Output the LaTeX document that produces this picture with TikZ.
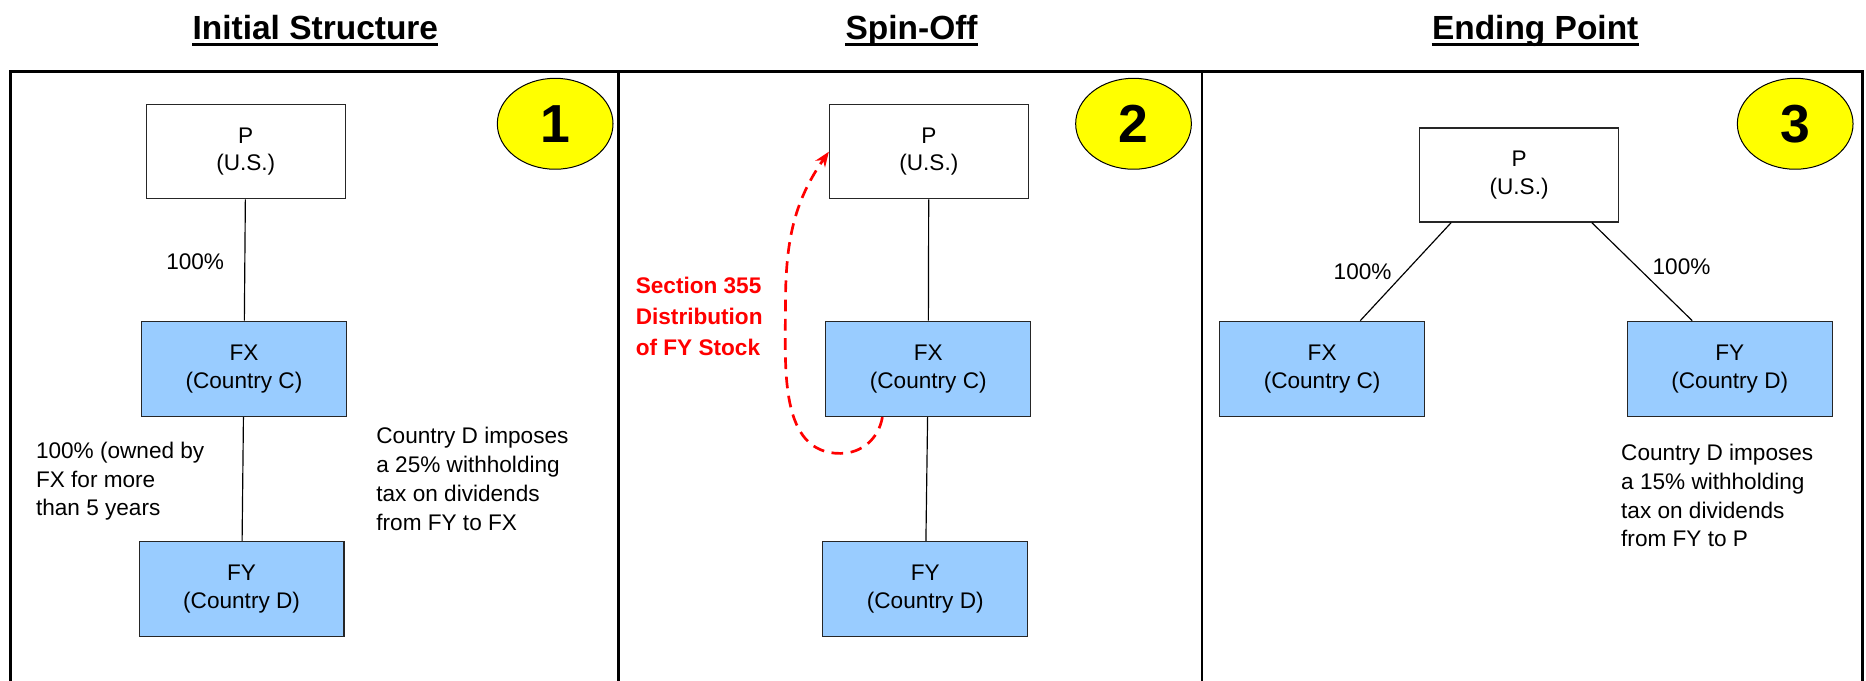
\documentclass[tikz,border=0pt]{standalone}
\usepackage{fontspec}
\setmainfont{Liberation Sans}
\usetikzlibrary{shapes.geometric}
\usetikzlibrary{arrows.meta}
\usetikzlibrary{calc}

\definecolor{boxblue}{RGB}{153,204,255}
\definecolor{stepyellow}{RGB}{255,255,0}
\definecolor{moveRed}{RGB}{255,0,0}

\tikzset{
  entity/.style={draw=black!85, line width=0.7pt, minimum width=4.175cm, minimum height=1.975cm,
    inner sep=0pt, align=center, font=\fontsize{13.5}{16.4}\selectfont},
  foreign/.style={entity, fill=boxblue, minimum width=4.3cm, minimum height=2cm},
  stepnum/.style={ellipse, draw=black, line width=0.6pt, fill=stepyellow, minimum width=2.43cm,
    minimum height=1.91cm, inner sep=0pt, font=\fontsize{32}{32}\bfseries\selectfont},
  heading/.style={anchor=base, inner sep=0pt, font=\fontsize{20}{24}\bfseries\selectfont},
  uline/.style={line width=1.4pt},
  note/.style={anchor=north west, inner sep=0pt, align=left, font=\fontsize{13.5}{17.2}\selectfont},
  share/.style={inner sep=0pt, font=\fontsize{13.5}{16}\selectfont},
  own/.style={line width=0.7pt},
  frame/.style={line width=1.6pt}
}

\begin{document}
\begin{tikzpicture}[x=0.025cm, y=-0.025cm]
            \useasboundingbox (0,0) rectangle (1568,572);

            % Headings
            \node[heading] (tInit) at (265,33) {Initial Structure};
            \node[heading] (tSpin) at (766,33) {Spin-Off};
            \node[heading] (tEnd) at (1290,33) {Ending Point};
            \foreach \t in {tInit, tSpin, tEnd} {
                \draw[uline] ($(\t.base west)+(0,4.5)$) -- ($(\t.base east)+(0,4.5)$);
            }

            % Frame
            \draw[frame] (9,572) -- (9,60) -- (1565,60) -- (1565,572);
            \draw[frame] (520,60) -- (520,572);
            \draw[frame] (1010,60) -- (1010,572);

            % Step numbers
            \node[stepnum] (n1) at (466.5,104) {1};
            \node[stepnum] (n2) at (952.5,104) {2};
            \node[stepnum] (n3) at (1508.5,104) {3};

            % Initial structure
            \node[entity] (p1) at (206.5,127.5) {P\\(U.S.)};
            \node[foreign] (fx1) at (205,310) {FX\\(Country C)};
            \node[foreign] (fy1) at (203,495) {FY\\(Country D)};
            \draw[own] (p1) -- (fx1);
            \draw[own] (fx1) -- (fy1);
            \node[share] (s1) at (164,220) {100\%};
            \node[note] (own1) at (30,371) {100\% (owned by\\FX for more\\than 5 years};
            \node[note] (tax1) at (316,359) {Country D imposes\\a 25\% withholding\\tax on dividends\\from FY to FX};

            % Spin-off
            \node[entity] (p2) at (780.5,127.5) {P\\(U.S.)};
            \node[foreign] (fx2) at (780,310) {FX\\(Country C)};
            \node[foreign] (fy2) at (777.5,495) {FY\\(Country D)};
            \draw[own] (p2) -- (fx2);
            \draw[own] (fx2) -- (fy2);

            % Section 355 distribution
            \coordinate (dLow) at (706,381);
            \coordinate (dLeft) at (660,258);
            \draw[moveRed, line width=1.6pt, dash pattern=on 7pt off 4.5pt, -{Stealth[length=9pt,width=7pt]}]
                ($(fx2.south west)+(48,0)$) to[out=-100,in=0] (dLow)
                to[out=180,in=-90] (dLeft) to[out=90,in=235] (p2.west);
            \node[note, text=moveRed, font=\fontsize{13.5}{18.5}\bfseries\selectfont] (d355) at (534,233)
                {Section 355\\Distribution\\of FY Stock};

            % Ending point
            \node[entity] (p3) at (1276.5,147) {P\\(U.S.)};
            \node[foreign] (fx3) at (1111,310) {FX\\(Country C)};
            \node[foreign] (fy3) at (1453.5,310) {FY\\(Country D)};
            \draw[own] ($(p3.south west)+(27,0)$) -- ($(fx3.north)+(32,0)$);
            \draw[own] ($(p3.south east)+(-23,0)$) -- ($(fy3.north)+(-31.5,0)$);
            \node[share] (s3a) at (1145,228) {100\%};
            \node[share] (s3b) at (1413,224) {100\%};
            \node[note] (tax3) at (1362,373) {Country D imposes\\a 15\% withholding\\tax on dividends\\from FY to P};

\end{tikzpicture}
\end{document}
